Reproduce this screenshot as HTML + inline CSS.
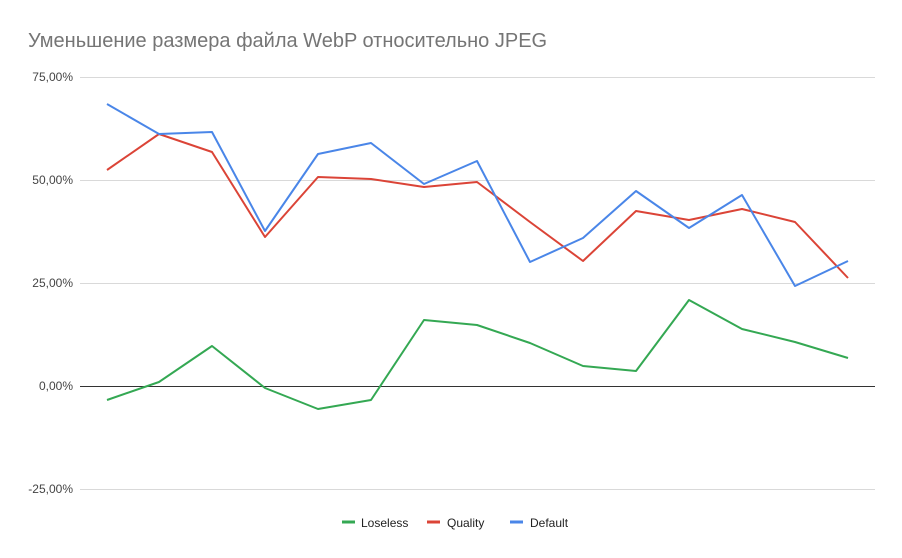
<!DOCTYPE html>
<html><head><meta charset="utf-8"><style>
body{margin:0;background:#fff;}
svg{display:block;font-family:"Liberation Sans",Arial,sans-serif;}
</style></head><body>
<svg width="902" height="558" viewBox="0 0 902 558">
<rect width="902" height="558" fill="#fff"/>
<text x="28" y="47" font-size="20" fill="#757575">Уменьшение размера файла WebP относительно JPEG</text>
<g stroke="#d9d9d9" stroke-width="1">
<line x1="80" y1="77.5" x2="875" y2="77.5"/>
<line x1="80" y1="180.5" x2="875" y2="180.5"/>
<line x1="80" y1="283.5" x2="875" y2="283.5"/>
<line x1="80" y1="489.5" x2="875" y2="489.5"/>
</g>
<line x1="80" y1="386.5" x2="875" y2="386.5" stroke="#333" stroke-width="1"/>
<g font-size="12" fill="#444" text-anchor="end">
<text x="73" y="81">75,00%</text>
<text x="73" y="184">50,00%</text>
<text x="73" y="287">25,00%</text>
<text x="73" y="390">0,00%</text>
<text x="73" y="493">-25,00%</text>
</g>
<g fill="none" stroke-width="2" stroke-linejoin="round">
<polyline stroke="#34a853" points="107,400 159,382 212,346 265,388 318,409 371,400 424,320 477,325 530,343 583,366 636,371 689,300 742,329 795,342 848,358"/>
<polyline stroke="#db4437" points="107,170 159,134 212,152 265,237 318,177 371,179 424,187 477,182 530,222 583,261 636,211 689,220 742,209 795,222 848,278"/>
<polyline stroke="#4a86e8" points="107,104 159,134 212,132 265,231 318,154 371,143 424,184 477,161 530,262 583,238 636,191 689,228 742,195 795,286 848,261"/>
</g>
<g font-size="12" fill="#222">
<line x1="342" y1="522" x2="355" y2="522" stroke="#34a853" stroke-width="3"/>
<text x="361" y="527">Loseless</text>
<line x1="427" y1="522" x2="440" y2="522" stroke="#db4437" stroke-width="3"/>
<text x="447" y="527">Quality</text>
<line x1="510" y1="522" x2="523" y2="522" stroke="#4a86e8" stroke-width="3"/>
<text x="530" y="527">Default</text>
</g>
</svg>
</body></html>
